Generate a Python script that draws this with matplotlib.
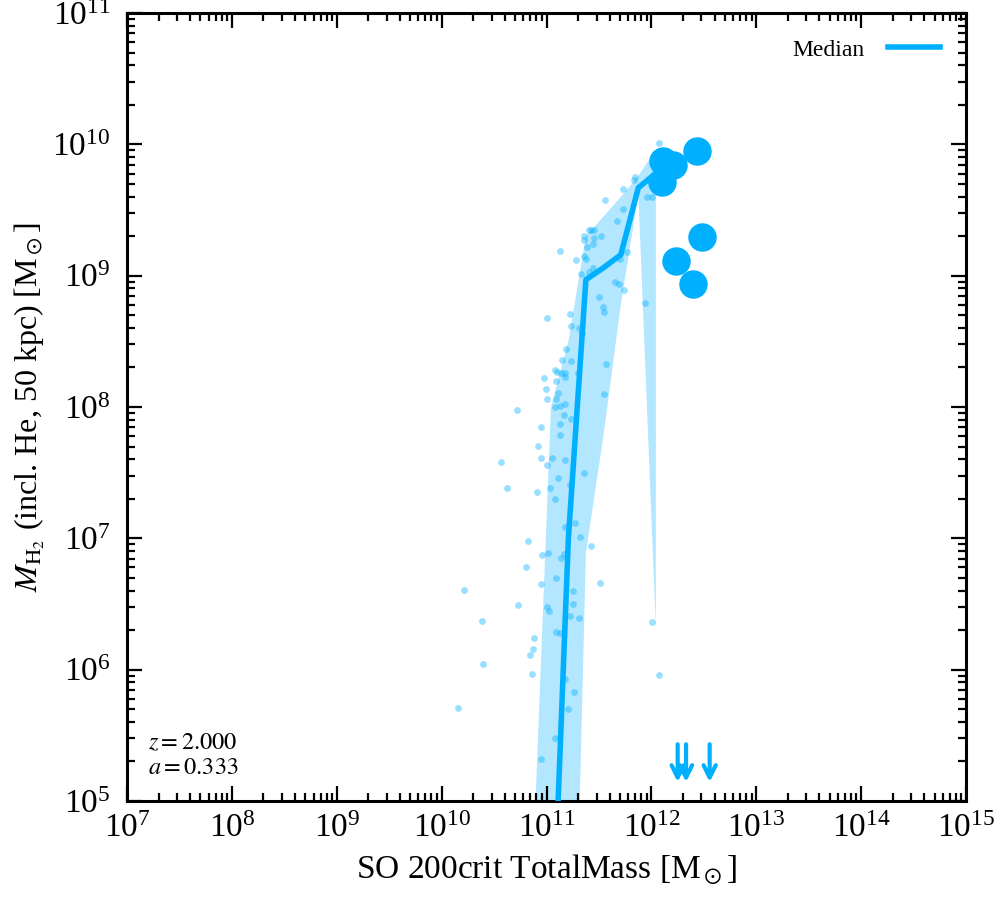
import numpy as np
import matplotlib
matplotlib.use("Agg")
from matplotlib import pyplot as plt
from matplotlib.ticker import LogLocator, NullFormatter, LogFormatterMathtext
import matplotlib.transforms as mtransforms

plt.rcParams["font.family"] = ["Liberation Serif", "DejaVu Serif"]
plt.rcParams["mathtext.fontset"] = "stix"

# log10 of halo mass bins, median and 16-84 band of M_H2
bin_logm = [10.875, 11.042, 11.208, 11.375, 11.542, 11.708, 11.875, 12.042]
median_logh2 = [2.5, 3.6, 7.0, 8.97, 9.06, 9.16, 9.67, 9.78]
upper_logh2 = [4.6, 8.0, 8.5, 9.3, 9.45, 9.6, 9.76, 9.96]
lower_logh2 = [1.0, 1.0, 1.5, 6.89, 7.78, 8.78, 9.62, 6.32]

# individual galaxies (log10)
gal_logm = [12.07, 11.84, 11.83, 11.73, 11.56, 11.96, 12.01, 11.73, 11.67, 11.40,
            11.42, 11.45, 11.36, 11.36, 11.45, 11.52, 11.44, 11.39, 11.13, 11.36,
            11.38, 11.28, 11.77, 11.70, 11.44, 11.40, 11.33, 11.65, 11.69, 11.74,
            11.50, 11.54, 11.55, 11.94, 11.00, 11.22, 11.23, 11.31, 11.34, 11.19,
            11.15, 11.23, 11.57, 11.08, 11.10, 11.14, 11.18, 11.18, 11.30, 10.98,
            11.09, 10.99, 11.11, 11.55, 11.00, 11.09, 11.08, 11.13, 11.18, 11.17,
            11.23, 11.13, 10.72, 10.95, 11.13, 10.92, 10.57, 10.95, 11.05, 11.00,
            11.18, 11.11, 10.62, 10.91, 11.03, 11.08, 11.22, 11.36, 11.18, 11.27,
            11.32, 11.42, 10.82, 10.96, 11.01, 11.17, 11.14, 10.80, 11.09, 11.51,
            10.95, 10.21, 11.25, 10.73, 11.00, 11.02, 11.25, 11.22, 11.31, 10.38,
            11.09, 11.13, 10.88, 10.87, 10.84, 10.39, 10.86, 12.01, 12.07, 11.18,
            11.26, 11.20, 10.16, 11.08, 10.95]
gal_logh2 = [10.01, 9.75, 9.73, 9.66, 9.58, 9.60, 9.60, 9.51, 9.42, 9.35,
             9.35, 9.35, 9.30, 9.27, 9.29, 9.30, 9.24, 9.22, 9.19, 9.15,
             9.13, 9.12, 9.18, 9.13, 9.06, 9.03, 9.01, 8.95, 8.94, 8.89,
             8.84, 8.76, 8.72, 8.79, 8.68, 8.71, 8.62, 8.60, 8.56, 8.44,
             8.36, 8.35, 8.33, 8.28, 8.27, 8.26, 8.26, 8.23, 8.26, 8.22,
             8.20, 8.14, 8.11, 8.10, 8.06, 8.06, 8.00, 8.01, 8.02, 7.94,
             7.91, 7.87, 7.98, 7.85, 7.79, 7.70, 7.58, 7.61, 7.61, 7.56,
             7.60, 7.46, 7.38, 7.35, 7.38, 7.30, 7.41, 7.50, 7.09, 7.12,
             7.01, 6.94, 6.98, 6.87, 6.89, 6.88, 6.85, 6.78, 6.70, 6.66,
             6.65, 6.61, 6.60, 6.49, 6.48, 6.45, 6.50, 6.41, 6.39, 6.37,
             6.29, 6.28, 6.24, 6.16, 6.11, 6.04, 5.97, 6.36, 5.96, 5.93,
             5.83, 5.70, 5.71, 5.48, 5.32]

# observational points (log10)
obs_logm = [12.107, 12.202, 12.431, 12.098, 12.485, 12.232, 12.400]
obs_logh2 = [9.873, 9.842, 9.951, 9.715, 9.292, 9.111, 8.934]

# upper limits (log10 mass)
limit_logm = [12.25, 12.33, 12.555]

bright = "#00B0FF"

fig = plt.figure(figsize=(9.96, 9.0), dpi=100)
ax = fig.add_axes([0.1275, 0.110, 0.8425, 0.8755])

bx = 10 ** np.array(bin_logm)
ax.fill_between(bx, 10 ** np.array(lower_logh2), 10 ** np.array(upper_logh2),
                color=bright, alpha=0.3, linewidth=0, zorder=1)
ax.scatter(10 ** np.array(gal_logm), 10 ** np.array(gal_logh2), s=24, color=bright,
           alpha=0.4, linewidths=0, zorder=2)
ax.plot(bx, 10 ** np.array(median_logh2), color=bright, lw=4, label="Median", zorder=3)
ax.scatter(10 ** np.array(obs_logm), 10 ** np.array(obs_logh2), s=420, color=bright,
           linewidths=0, zorder=4)

trans = mtransforms.blended_transform_factory(ax.transData, ax.transAxes)
for lm in limit_logm:
    ax.annotate("", xy=(10 ** lm, 0.024), xytext=(10 ** lm, 0.072),
                xycoords=trans, textcoords=trans,
                arrowprops=dict(arrowstyle="->", color=bright, lw=3,
                                mutation_scale=22, shrinkA=0, shrinkB=0),
                zorder=5)

ax.set_xscale("log")
ax.set_yscale("log")
ax.set_xlim(1e7, 1e15)
ax.set_ylim(1e5, 1e11)

for axis in (ax.xaxis, ax.yaxis):
    axis.set_major_locator(LogLocator(base=10, numticks=20))
    axis.set_minor_locator(LogLocator(base=10, subs=np.arange(2, 10), numticks=200))
    axis.set_minor_formatter(NullFormatter())
    axis.set_major_formatter(LogFormatterMathtext())

ax.tick_params(which="both", direction="in", top=True, right=True, width=1.6, labelsize=24)
ax.tick_params(which="major", length=11)
ax.tick_params(axis="y", which="major", pad=12)
ax.tick_params(axis="x", which="major", pad=9)
ax.tick_params(which="minor", length=6)
for sp in ax.spines.values():
    sp.set_linewidth(2.2)

ax.set_xlabel(r"SO 200crit TotalMass [M$_\odot$]", fontsize=24, labelpad=6)
ax.set_ylabel(r"$M_{\rm H_2}$ (incl. He, 50 kpc) [M$_\odot$]", fontsize=23, labelpad=4)

ax.text(0.025, 0.028, "$z = 2.000$\n$a = 0.333$", transform=ax.transAxes,
        fontsize=17.5, ha="left", va="bottom", linespacing=1.25)

ax.legend(loc="upper right", frameon=False, markerfirst=False, fontsize=17,
          handlelength=2.2, handletextpad=1.0, borderaxespad=0.7)

fig.savefig("out.png", dpi=100)
